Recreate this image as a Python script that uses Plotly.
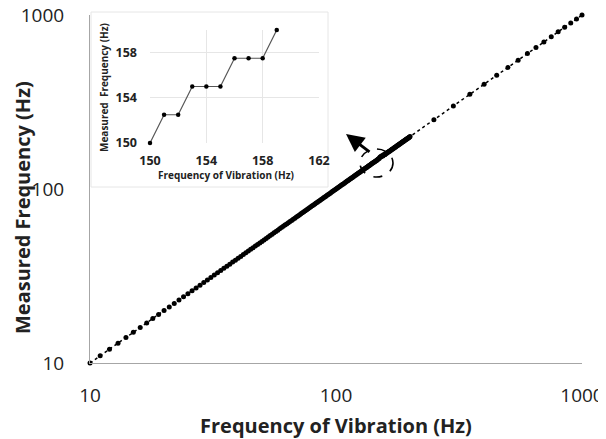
import math
import plotly.graph_objects as go

# Main series: frequency of vibration (Hz) vs measured frequency (Hz)
freq_vibration = [
    10, 11, 12, 13, 14, 15, 16, 17, 18, 19,
    20, 21, 22, 23, 24, 25, 26, 27, 28, 29,
    30, 31, 32, 33, 34, 35, 36, 37, 38, 39,
    40, 41, 42, 43, 44, 45, 46, 47, 48, 49,
    50, 51, 52, 53, 54, 55, 56, 57, 58, 59,
    60, 61, 62, 63, 64, 65, 66, 67, 68, 69,
    70, 71, 72, 73, 74, 75, 76, 77, 78, 79,
    80, 81, 82, 83, 84, 85, 86, 87, 88, 89,
    90, 91, 92, 93, 94, 95, 96, 97, 98, 99,
    100, 101, 102, 103, 104, 105, 106, 107, 108, 109,
    110, 111, 112, 113, 114, 115, 116, 117, 118, 119,
    120, 121, 122, 123, 124, 125, 126, 127, 128, 129,
    130, 131, 132, 133, 134, 135, 136, 137, 138, 139,
    140, 141, 142, 143, 144, 145, 146, 147, 148, 149,
    150, 151, 152, 153, 154, 155, 156, 157, 158, 159,
    160, 161, 162, 163, 164, 165, 166, 167, 168, 169,
    170, 171, 172, 173, 174, 175, 176, 177, 178, 179,
    180, 181, 182, 183, 184, 185, 186, 187, 188, 189,
    190, 191, 192, 193, 194, 195, 196, 197, 198, 199,
    200, 250, 300, 350, 400, 450, 500, 550, 600, 650,
    700, 750, 800, 850, 900, 950, 1000,
]
measured_frequency = [
    10, 11, 12, 13, 14, 15, 16, 17, 18, 19,
    20, 21, 22, 23, 24, 25, 26, 27, 28, 29,
    30, 31, 32, 33, 34, 35, 36, 37, 38, 39,
    40, 41, 42, 43, 44, 45, 46, 47, 48, 49,
    50, 51, 52, 53, 54, 55, 56, 57, 58, 59,
    60, 61, 62, 63, 64, 65, 66, 67, 68, 69,
    70, 71, 72, 73, 74, 75, 76, 77, 78, 79,
    80, 81, 82, 83, 84, 85, 86, 87, 88, 89,
    90, 91, 92, 93, 94, 95, 96, 97, 98, 99,
    100, 101, 102, 103, 104, 105, 106, 107, 108, 109,
    110, 111, 112, 113, 114, 115, 116, 117, 118, 119,
    120, 121, 122, 123, 124, 125, 126, 127, 128, 129,
    130, 131, 132, 133, 134, 135, 136, 137, 138, 139,
    140, 141, 142, 143, 144, 145, 146, 147, 148, 149,
    150, 152.5, 152.5, 155, 155, 155, 157.5, 157.5, 157.5, 160,
    160, 161, 162, 163, 164, 165, 166, 167, 168, 169,
    170, 171, 172, 173, 174, 175, 176, 177, 178, 179,
    180, 181, 182, 183, 184, 185, 186, 187, 188, 189,
    190, 191, 192, 193, 194, 195, 196, 197, 198, 199,
    200, 250, 300, 350, 400, 450, 500, 550, 600, 650,
    700, 750, 800, 850, 900, 950, 1000,
]
main_ticks = [10, 100, 1000]

# Inset series (zoom on 150-159 Hz)
inset_freq = [150, 151, 152, 153, 154, 155, 156, 157, 158, 159]
inset_measured = [150, 152.5, 152.5, 155, 155, 155, 157.5, 157.5, 157.5, 160]
inset_xticks = [150, 154, 158, 162]
inset_yticks = [150, 154, 158]

# the page body adds an 8px margin; lay out in page pixels and compensate
OFF = 8
PAGE_W, PAGE_H = 606, 439
W, H = PAGE_W - OFF, PAGE_H - OFF
# plot area in page pixels: x 90..582, y 15..363
PL, PR, PT, PB = 90, 582, 15, 363
L, R, T, B = PL - OFF, W - (PR - OFF), PT - OFF, H - (PB - OFF)
pw, ph = PR - PL, PB - PT


def px(xp):
    return (xp - PL) / pw


def py(yp):
    return (PB - yp) / ph


FONT = "Open Sans"
TXT = "#222222"

fig = go.Figure()

fig.add_trace(go.Scatter(
    x=freq_vibration, y=measured_frequency, mode="lines+markers",
    line=dict(color="black", width=1.5, dash="dot"),
    marker=dict(color="black", size=5),
    xaxis="x", yaxis="y", showlegend=False, cliponaxis=False,
))

fig.add_trace(go.Scatter(
    x=inset_freq, y=inset_measured, mode="lines+markers",
    line=dict(color="#555555", width=1.2),
    marker=dict(color="black", size=4.5),
    xaxis="x2", yaxis="y2", showlegend=False, cliponaxis=False,
))

fig.update_layout(
    width=W, height=H,
    margin=dict(l=L, r=R, t=T, b=B, autoexpand=False),
    paper_bgcolor="white", plot_bgcolor="rgba(0,0,0,0)",
    font=dict(family=FONT, color=TXT),
    xaxis=dict(
        type="log", range=[1, 3], tickvals=main_ticks,
        ticktext=[str(v) for v in main_ticks],
        showgrid=False, zeroline=False, showline=True,
        linecolor="#a6a6a6", linewidth=1, ticks="",
        tickfont=dict(size=19, family=FONT, color=TXT),
        ticklabelstandoff=15, automargin=False, ticklabeloverflow="allow",
        domain=[0, 1],
    ),
    yaxis=dict(
        type="log", range=[1, 3], tickvals=main_ticks,
        ticktext=[str(v) for v in main_ticks],
        showgrid=False, zeroline=False, showline=True,
        linecolor="#a6a6a6", linewidth=1, ticks="",
        tickfont=dict(size=19, family=FONT, color=TXT),
        ticklabelstandoff=21, automargin=False, ticklabeloverflow="allow",
        domain=[0, 1],
    ),
    xaxis2=dict(
        range=[150, 162], tickvals=inset_xticks,
        domain=[px(150), px(319)], anchor="y2",
        showgrid=True, gridcolor="#e6e6e6", gridwidth=1,
        zeroline=False, showline=False, ticks="",
        tickfont=dict(size=12.5, family=FONT, color=TXT, weight="bold"),
        ticklabelstandoff=8, automargin=False, ticklabeloverflow="allow",
    ),
    yaxis2=dict(
        range=[150, 160], tickvals=inset_yticks,
        domain=[py(143), py(30)], anchor="x2",
        showgrid=True, gridcolor="#e6e6e6", gridwidth=1,
        zeroline=False, showline=False, ticks="",
        tickfont=dict(size=12.5, family=FONT, color=TXT, weight="bold"),
        ticklabelstandoff=12, automargin=False, ticklabeloverflow="allow",
    ),
)

shapes = [
    # main gridlines at 100
    dict(type="line", xref="paper", yref="y", x0=0, x1=1,
         y0=math.log10(100), y1=math.log10(100),
         line=dict(color="#e3e3e3", width=1), layer="below"),
    dict(type="line", xref="x", yref="paper", x0=math.log10(100), x1=math.log10(100),
         y0=0, y1=1, line=dict(color="#e3e3e3", width=1), layer="below"),
    # inset frame
    dict(type="rect", xref="paper", yref="paper",
         x0=px(91), x1=px(328), y0=py(187), y1=py(12),
         line=dict(color="#e6e6e6", width=1), fillcolor="white", layer="below"),
    # dashed ellipse around the zoomed region
    dict(type="circle", xref="paper", yref="paper",
         x0=px(360), x1=px(393), y0=py(177), y1=py(149),
         line=dict(color="black", width=1.6, dash="dash")),
]
fig.update_layout(shapes=shapes)

annotations = [
    dict(x=px(336), y=py(425), xref="paper", yref="paper",
         text="<b>Frequency of Vibration (Hz)</b>", showarrow=False,
         font=dict(size=20, family=FONT, color=TXT),
         xanchor="center", yanchor="middle"),
    dict(x=px(22), y=py(208), xref="paper", yref="paper",
         text="<b>Measured Frequency (Hz)</b>", showarrow=False, textangle=-90,
         font=dict(size=20, family=FONT, color=TXT),
         xanchor="center", yanchor="middle"),
    dict(x=px(226), y=py(175), xref="paper", yref="paper",
         text="<b>Frequency of Vibration (Hz)</b>", showarrow=False,
         font=dict(size=10, family=FONT, color=TXT),
         xanchor="center", yanchor="middle"),
    dict(x=px(104), y=py(88), xref="paper", yref="paper",
         text="<b>Measured  Frequency (Hz)</b>", showarrow=False, textangle=-90,
         font=dict(size=10, family=FONT, color=TXT),
         xanchor="center", yanchor="middle"),
    # arrow pointing toward the inset
    dict(x=px(346), y=py(134), xref="paper", yref="paper", text="",
         showarrow=True, ax=25, ay=19, axref="pixel", ayref="pixel",
         arrowhead=2, arrowsize=1.2, arrowwidth=3, arrowcolor="black", standoff=0),
]
fig.update_layout(annotations=annotations)

fig.write_html("out.html")
